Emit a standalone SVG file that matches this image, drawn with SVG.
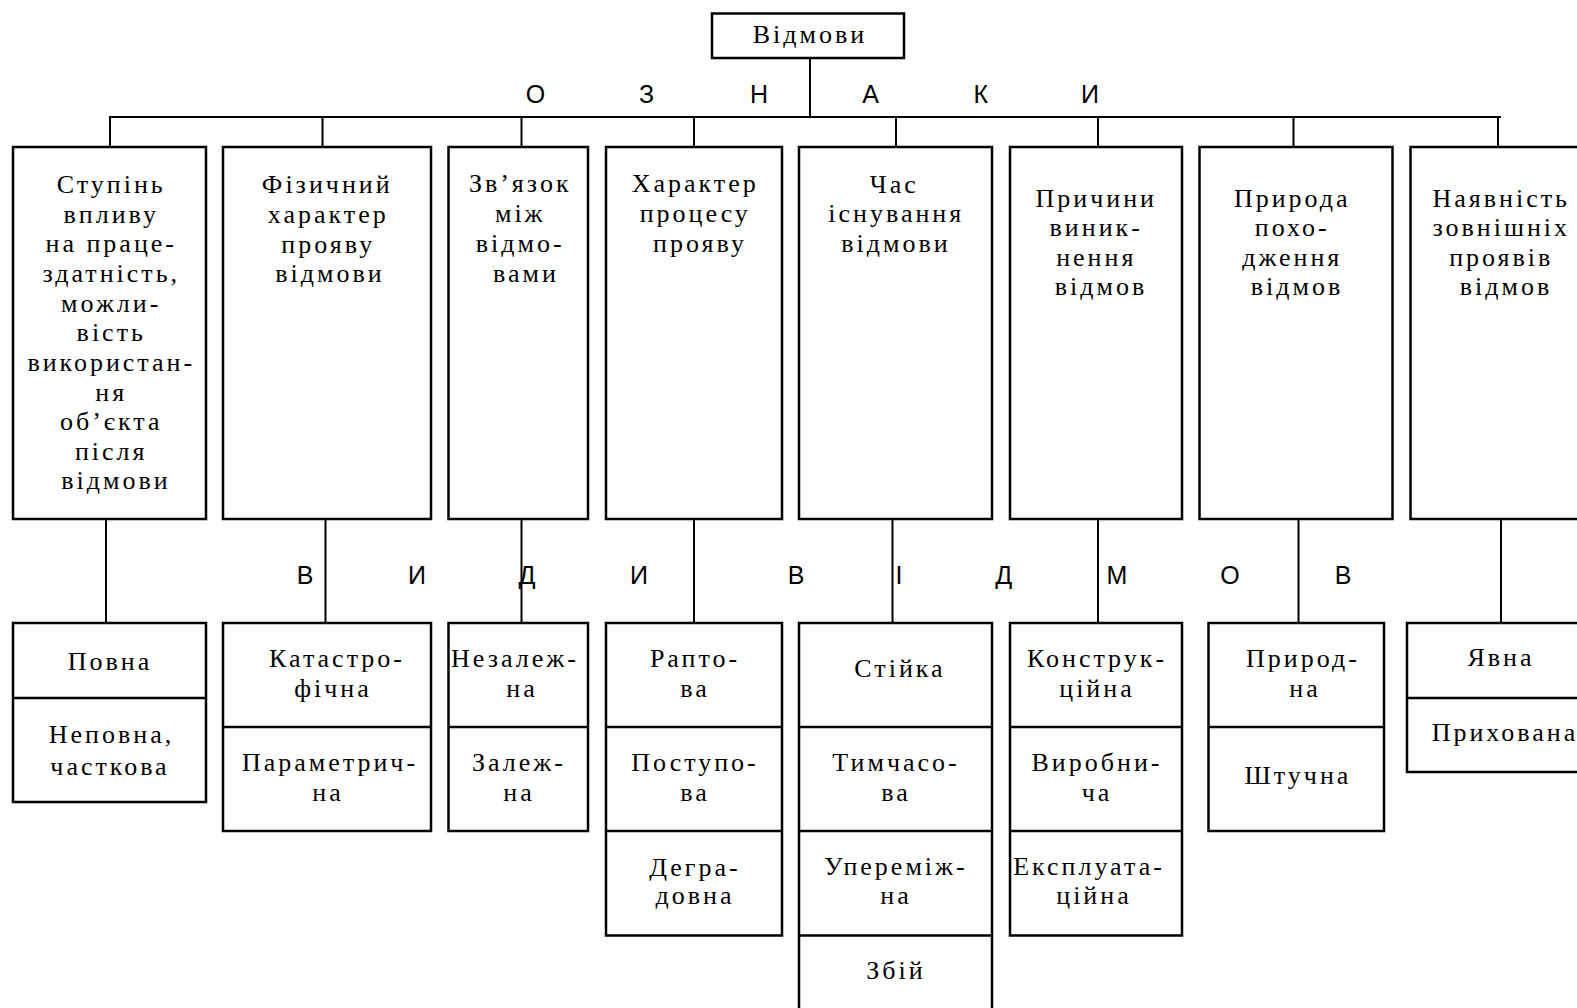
<svg xmlns="http://www.w3.org/2000/svg" width="1577" height="1008" viewBox="0 0 1577 1008">
<style>
.box{fill:#fff;stroke:#000;stroke-width:2.5}
.div{stroke:#000;stroke-width:2.5;fill:none}
.c{stroke:#000;stroke-width:2;fill:none}
.t{font-family:"Liberation Serif","Times New Roman",serif;font-size:26px;letter-spacing:3px;text-anchor:middle;fill:#000}
.s{font-family:"Liberation Sans",Arial,sans-serif;font-size:25px;text-anchor:middle;fill:#000}
</style>
<rect width="1577" height="1008" fill="#fff"/>
<g id="connectors">
<line class="c" x1="810" y1="58" x2="810" y2="117"/>
<line class="c" x1="109" y1="117" x2="1501" y2="117"/>
<line class="c" x1="110" y1="117" x2="110" y2="147"/>
<line class="c" x1="322.5" y1="117" x2="322.5" y2="147"/>
<line class="c" x1="521.5" y1="117" x2="521.5" y2="147"/>
<line class="c" x1="694" y1="117" x2="694" y2="147"/>
<line class="c" x1="896" y1="117" x2="896" y2="147"/>
<line class="c" x1="1098" y1="117" x2="1098" y2="147"/>
<line class="c" x1="1293.5" y1="117" x2="1293.5" y2="147"/>
<line class="c" x1="1498" y1="117" x2="1498" y2="147"/>
<line class="c" x1="106" y1="519" x2="106" y2="623"/>
<line class="c" x1="325.5" y1="516" x2="325.5" y2="623"/>
<line class="c" x1="521.5" y1="516" x2="521.5" y2="623"/>
<line class="c" x1="694" y1="519" x2="694" y2="623"/>
<line class="c" x1="892.5" y1="519" x2="892.5" y2="623"/>
<line class="c" x1="1098" y1="519" x2="1098" y2="623"/>
<line class="c" x1="1298.5" y1="519" x2="1298.5" y2="623"/>
<line class="c" x1="1501" y1="519" x2="1501" y2="623"/>
</g>
<g id="root">
<rect class="box" x="712" y="13.5" width="192" height="44.5"/>
<text class="t" x="810" y="43">Відмови</text>
</g>
<g id="labels-top">
<text class="s" x="535.5" y="103">О</text>
<text class="s" x="646.5" y="103">З</text>
<text class="s" x="759" y="103">Н</text>
<text class="s" x="870.5" y="103">А</text>
<text class="s" x="980.8" y="103">К</text>
<text class="s" x="1090" y="103">И</text>
</g>
<g id="labels-bottom">
<text class="s" x="305" y="584">В</text>
<text class="s" x="417" y="584">И</text>
<text class="s" x="527" y="584">Д</text>
<text class="s" x="639" y="584">И</text>
<text class="s" x="796" y="584">В</text>
<text class="s" x="899" y="584">І</text>
<text class="s" x="1003.7" y="584">Д</text>
<text class="s" x="1117" y="584">М</text>
<text class="s" x="1230" y="584">О</text>
<text class="s" x="1343" y="584">В</text>
</g>
<g id="sign1">
<rect class="box" x="13" y="147" width="193" height="372"/>
<text class="t">
<tspan x="116" y="193">Ступінь</tspan>
<tspan x="116" y="222.5">впливу</tspan>
<tspan x="116" y="252">на праце-</tspan>
<tspan x="116" y="282">здатність,</tspan>
<tspan x="116" y="311.5">можли-</tspan>
<tspan x="116" y="341">вість</tspan>
<tspan x="116" y="371">використан-</tspan>
<tspan x="116" y="400.5">ня</tspan>
<tspan x="116" y="430">об’єкта</tspan>
<tspan x="116" y="460">після</tspan>
<tspan x="116" y="489">відмови</tspan>
</text>
</g>
<g id="sign2">
<rect class="box" x="223" y="147" width="208" height="372"/>
<text class="t">
<tspan x="332" y="193">Фізичний</tspan>
<tspan x="333" y="223">характер</tspan>
<tspan x="333" y="253">прояву</tspan>
<tspan x="330" y="282">відмови</tspan>
</text>
</g>
<g id="sign3">
<rect class="box" x="448.5" y="147" width="139.5" height="372"/>
<text class="t">
<tspan x="525" y="192">Зв’язок</tspan>
<tspan x="525" y="222">між</tspan>
<tspan x="525" y="252">відмо-</tspan>
<tspan x="526" y="282">вами</tspan>
</text>
</g>
<g id="sign4">
<rect class="box" x="606" y="147" width="176" height="372"/>
<text class="t">
<tspan x="700" y="192">Характер</tspan>
<tspan x="700" y="222">процесу</tspan>
<tspan x="700" y="252">прояву</tspan>
</text>
</g>
<g id="sign5">
<rect class="box" x="799" y="147" width="193" height="372"/>
<text class="t">
<tspan x="899" y="193">Час</tspan>
<tspan x="901" y="222">існування</tspan>
<tspan x="896" y="252">відмови</tspan>
</text>
</g>
<g id="sign6">
<rect class="box" x="1010" y="147" width="172" height="372"/>
<text class="t">
<tspan x="1101" y="207">Причини</tspan>
<tspan x="1101" y="236">виник-</tspan>
<tspan x="1101" y="266">нення</tspan>
<tspan x="1101" y="295">відмов</tspan>
</text>
</g>
<g id="sign7">
<rect class="box" x="1199.5" y="147" width="193" height="372"/>
<text class="t">
<tspan x="1297" y="207">Природа</tspan>
<tspan x="1297" y="236">похо-</tspan>
<tspan x="1297" y="266">дження</tspan>
<tspan x="1297" y="295">відмов</tspan>
</text>
</g>
<g id="sign8">
<rect class="box" x="1410.5" y="147" width="190" height="372"/>
<text class="t">
<tspan x="1506" y="207">Наявність</tspan>
<tspan x="1506" y="236">зовнішніх</tspan>
<tspan x="1506" y="266">проявів</tspan>
<tspan x="1506" y="295">відмов</tspan>
</text>
</g>
<g id="kinds1">
<rect class="box" x="13" y="623" width="193" height="179"/>
<line class="div" x1="13" y1="698" x2="206" y2="698"/>
<text class="t" x="110" y="670">Повна</text>
<text class="t"><tspan x="111.5" y="743">Неповна,</tspan><tspan x="110" y="775">часткова</tspan></text>
</g>
<g id="kinds2">
<rect class="box" x="223" y="623" width="208" height="208"/>
<line class="div" x1="223" y1="727" x2="431" y2="727"/>
<text class="t"><tspan x="337" y="667">Катастро-</tspan><tspan x="333" y="697">фічна</tspan></text>
<text class="t"><tspan x="330" y="771">Параметрич-</tspan><tspan x="328" y="801">на</tspan></text>
</g>
<g id="kinds3">
<rect class="box" x="448.5" y="623" width="139.5" height="208"/>
<line class="div" x1="448.5" y1="727" x2="588" y2="727"/>
<text class="t"><tspan x="515" y="667">Незалеж-</tspan><tspan x="522" y="697">на</tspan></text>
<text class="t"><tspan x="519" y="771">Залеж-</tspan><tspan x="519" y="801">на</tspan></text>
</g>
<g id="kinds4">
<rect class="box" x="606" y="623" width="176" height="312.5"/>
<line class="div" x1="606" y1="727" x2="782" y2="727"/>
<line class="div" x1="606" y1="831" x2="782" y2="831"/>
<text class="t"><tspan x="695" y="667">Рапто-</tspan><tspan x="695" y="697">ва</tspan></text>
<text class="t"><tspan x="695" y="771">Поступо-</tspan><tspan x="695" y="801">ва</tspan></text>
<text class="t"><tspan x="695" y="876">Дегра-</tspan><tspan x="695" y="904">довна</tspan></text>
</g>
<g id="kinds5">
<rect class="box" x="799" y="623" width="193" height="420"/>
<line class="div" x1="799" y1="727" x2="992" y2="727"/>
<line class="div" x1="799" y1="831" x2="992" y2="831"/>
<line class="div" x1="799" y1="935.5" x2="992" y2="935.5"/>
<text class="t" x="900" y="677">Стійка</text>
<text class="t"><tspan x="896" y="771">Тимчасо-</tspan><tspan x="896" y="801">ва</tspan></text>
<text class="t"><tspan x="896" y="875">Упереміж-</tspan><tspan x="896" y="904">на</tspan></text>
<text class="t" x="896" y="979">Збій</text>
</g>
<g id="kinds6">
<rect class="box" x="1010" y="623" width="172" height="312.5"/>
<line class="div" x1="1010" y1="727" x2="1182" y2="727"/>
<line class="div" x1="1010" y1="831" x2="1182" y2="831"/>
<text class="t"><tspan x="1097" y="667">Конструк-</tspan><tspan x="1097" y="697">ційна</tspan></text>
<text class="t"><tspan x="1097" y="771">Виробни-</tspan><tspan x="1097" y="801">ча</tspan></text>
<text class="t"><tspan x="1089" y="875">Експлуата-</tspan><tspan x="1094" y="904">ційна</tspan></text>
</g>
<g id="kinds7">
<rect class="box" x="1208.5" y="623" width="175.5" height="208"/>
<line class="div" x1="1208.5" y1="727" x2="1384" y2="727"/>
<text class="t"><tspan x="1303" y="667">Природ-</tspan><tspan x="1305" y="697">на</tspan></text>
<text class="t" x="1298" y="784">Штучна</text>
</g>
<g id="kinds8">
<rect class="box" x="1407" y="623" width="193" height="149"/>
<line class="div" x1="1407" y1="698" x2="1600" y2="698"/>
<text class="t" x="1501" y="666">Явна</text>
<text class="t" x="1505" y="741">Прихована</text>
</g>
</svg>
